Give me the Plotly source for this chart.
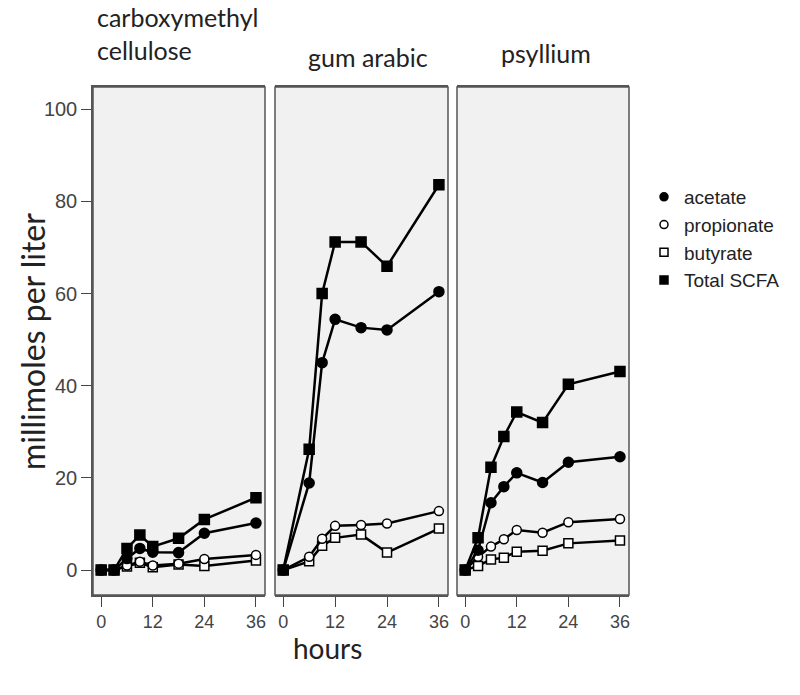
import plotly.graph_objects as go

panels = ["carboxymethyl<br>cellulose", "gum arabic", "psyllium"]

hours_cmc = [0, 3, 6, 9, 12, 18, 24, 36]
cmc_acetate = [0, 0, 2.5, 4.7, 3.9, 3.8, 8.0, 10.2]
cmc_propionate = [0, 0, 1.0, 1.8, 1.0, 1.4, 2.4, 3.3]
cmc_butyrate = [0, 0, 0.8, 1.6, 0.6, 1.2, 0.9, 2.1]
cmc_total = [0, 0, 4.7, 7.6, 5.1, 6.9, 11.0, 15.7]

hours_ga = [0, 6, 9, 12, 18, 24, 36]
ga_acetate = [0, 18.9, 45.0, 54.4, 52.6, 52.1, 60.4]
ga_propionate = [0, 2.9, 6.8, 9.6, 9.8, 10.1, 12.8]
ga_butyrate = [0, 1.9, 5.3, 7.0, 7.7, 3.8, 9.0]
ga_total = [0, 26.2, 60.0, 71.2, 71.2, 65.9, 83.6]

hours_ps = [0, 3, 6, 9, 12, 18, 24, 36]
ps_acetate = [0, 4.3, 14.6, 18.1, 21.1, 19.0, 23.4, 24.6]
ps_propionate = [0, 2.9, 5.1, 6.7, 8.7, 8.1, 10.4, 11.1]
ps_butyrate = [0, 0.9, 2.3, 2.7, 4.0, 4.2, 5.8, 6.4]
ps_total = [0, 7.0, 22.3, 29.0, 34.3, 32.0, 40.3, 43.1]

series_names = ["acetate", "propionate", "butyrate", "Total SCFA"]
x_ticks = [0, 12, 24, 36]
y_ticks = [0, 20, 40, 60, 80, 100]

data = [
    (hours_cmc, [cmc_acetate, cmc_propionate, cmc_butyrate, cmc_total]),
    (hours_ga, [ga_acetate, ga_propionate, ga_butyrate, ga_total]),
    (hours_ps, [ps_acetate, ps_propionate, ps_butyrate, ps_total]),
]

styles = {
    "acetate": dict(symbol="circle", color="black", size=10),
    "propionate": dict(symbol="circle", color="white", size=9),
    "butyrate": dict(symbol="square", color="white", size=9),
    "Total SCFA": dict(symbol="square", color="black", size=10),
}

W, H = 800, 695
fig = go.Figure()

xdoms = [(93, 265), (275, 448), (457, 629)]
ytop, ybot = 87, 595

draw_order = [2, 1, 0, 3]
for i, (hrs, vals) in enumerate(data):
    xa = "x" if i == 0 else f"x{i+1}"
    for k in draw_order:
        name = series_names[k]
        st = styles[name]
        fig.add_trace(go.Scatter(
            x=hrs, y=vals[k], mode="lines+markers", name=name,
            xaxis=xa, yaxis="y",
            line=dict(color="black", width=2.5),
            marker=dict(symbol=st["symbol"], color=st["color"], size=st["size"],
                        line=dict(color="black", width=1.5)),
            showlegend=False,
        ))

# legend entries
for name in series_names:
    st = styles[name]
    fig.add_trace(go.Scatter(
        x=[None], y=[None], mode="markers", name=name, xaxis="x", yaxis="y",
        marker=dict(symbol=st["symbol"], color=st["color"], size=8,
                    line=dict(color="black", width=1.5)),
        showlegend=True,
    ))

axis_common = dict(
    range=[-1.9, 38.1], tickvals=x_ticks, ticks="outside", ticklen=10, tickwidth=1.3,
    tickcolor="#444", showgrid=False, zeroline=False, showline=True, linecolor="#555",
    linewidth=1.5, mirror=True, tickfont=dict(family="Liberation Sans", size=18, color="#444"),
    anchor="y",
)
layout = dict(
    width=W, height=H, margin=dict(l=0, r=0, t=0, b=0),
    paper_bgcolor="white", plot_bgcolor="#f1f1f1",
    showlegend=True,
    legend=dict(x=644 / W, y=1 - 178 / H, xanchor="left", yanchor="top",
                font=dict(family="Liberation Sans", size=19, color="#222"),
                itemwidth=30, tracegroupgap=0, bgcolor="rgba(0,0,0,0)"),
    yaxis=dict(range=[-5.4, 104.8], tickvals=y_ticks, ticks="outside", ticklen=10,
               tickwidth=1.3, tickcolor="#444", showgrid=False, zeroline=False,
               showline=True, linecolor="#555", linewidth=1.5,
               domain=[1 - ybot / H, 1 - ytop / H], anchor="x",
               tickfont=dict(family="Liberation Sans", size=20, color="#444")),
)
for i, (a, b) in enumerate(xdoms):
    key = "xaxis" if i == 0 else f"xaxis{i+1}"
    d = dict(axis_common)
    d["domain"] = [a / W, b / W]
    layout[key] = d
fig.update_layout(**layout)

for i, (a, b) in enumerate(xdoms):
    fig.add_shape(type="rect", xref="paper", yref="paper",
                  x0=a / W, x1=b / W, y0=1 - ybot / H, y1=1 - ytop / H,
                  line=dict(color="#555", width=1.5), fillcolor="rgba(0,0,0,0)", layer="above")

title_font = dict(family="Lato", size=25, color="#222")
fig.add_annotation(text=panels[0], xref="paper", yref="paper", x=95 / W, y=1 - 0 / H,
                   xanchor="left", yanchor="top", showarrow=False, align="left",
                   font=title_font)
fig.add_annotation(text=panels[1], xref="paper", yref="paper", x=368 / W, y=1 - 40 / H,
                   xanchor="center", yanchor="top", showarrow=False, font=title_font)
fig.add_annotation(text=panels[2], xref="paper", yref="paper", x=499 / W, y=1 - 36 / H,
                   xanchor="left", yanchor="top", showarrow=False, font=title_font)

fig.add_annotation(text="millimoles per liter", xref="paper", yref="paper",
                   x=32 / W, y=1 - 342 / H, textangle=-90, showarrow=False,
                   xanchor="center", yanchor="middle",
                   font=dict(family="Lato", size=32, color="#222"))
fig.add_annotation(text="hours", xref="paper", yref="paper",
                   x=327 / W, y=1 - 648 / H, showarrow=False,
                   xanchor="center", yanchor="middle",
                   font=dict(family="Lato", size=28, color="#222"))

fig.write_html("out.html", config={"displayModeBar": False},
               post_script="document.body.style.margin='0px';")
